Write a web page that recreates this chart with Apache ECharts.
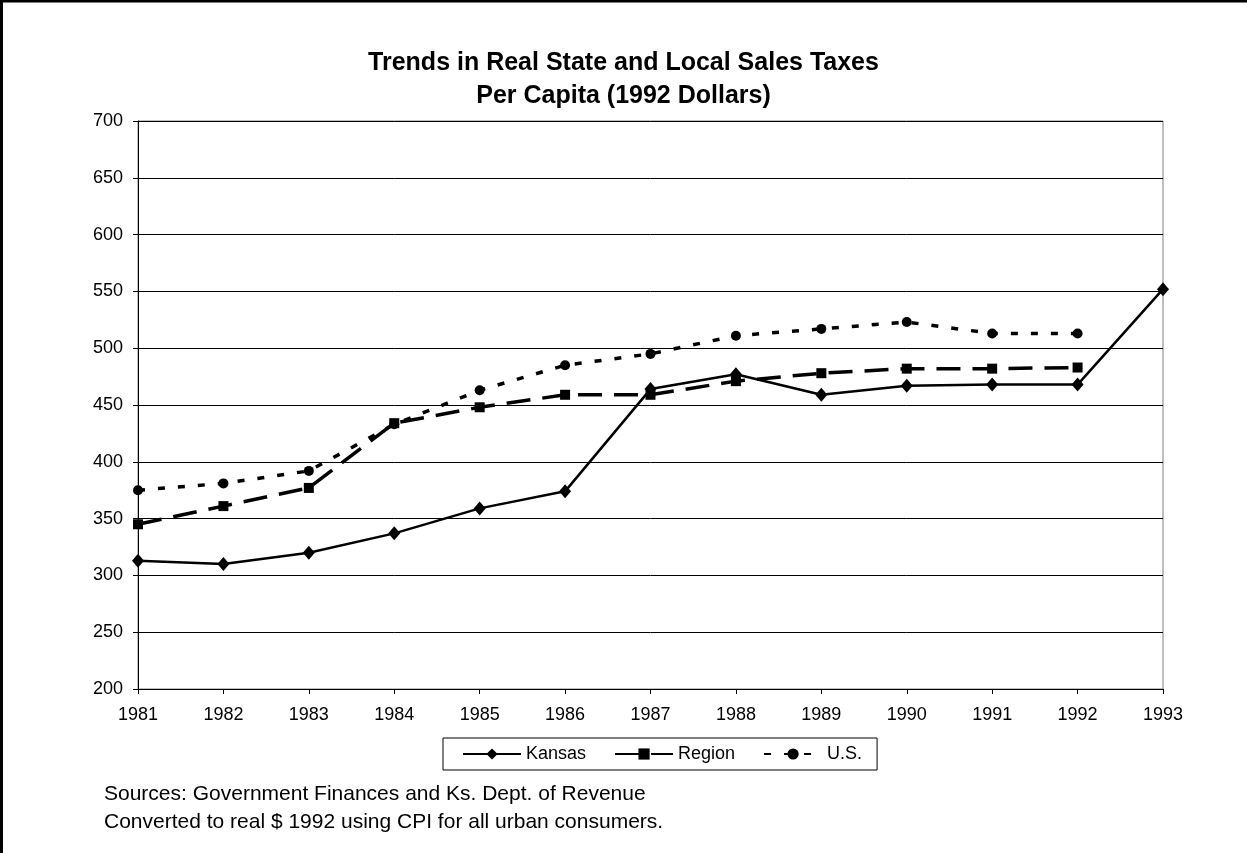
<!DOCTYPE html>
<html>
<head>
<meta charset="utf-8">
<script src="https://cdn.jsdelivr.net/npm/echarts@6/dist/echarts.min.js"></script>
<style>
html,body{margin:0;padding:0;background:#fff;}
#chart{width:1247px;height:853px;}
</style>
</head>
<body>
<div id="chart"></div>
<script>
const years = ['1981','1982','1983','1984','1985','1986','1987','1988','1989','1990','1991','1992','1993'];
const kansas = [313, 310, 320, 337, 359, 374, 464, 477, 459, 467, 468, 468, 552];
const region = [345, 361, 377, 434, 448, 459, 459, 471, 478, 482, 482, 483, null];
const us = [375, 381, 392, 433, 463, 485, 495, 511, 517, 523, 513, 513, null];
const titleLines = 'Trends in Real State and Local Sales Taxes\nPer Capita (1992 Dollars)';
const notes = ['Sources: Government Finances and Ks. Dept. of Revenue', 'Converted to real $ 1992 using CPI for all urban consumers.'];

const chart = echarts.init(document.getElementById('chart'));
const font = 'Arial, "Liberation Sans", sans-serif';
chart.setOption({
  animation: false,
  backgroundColor: '#fff',
  title: {
    text: titleLines,
    left: 'center',
    top: 42,
    textStyle: {fontFamily: font, fontSize: 25, fontWeight: 'bold', color: '#000', lineHeight: 33}
  },
  grid: {left: 138, right: 84, top: 121, bottom: 164, show: true, borderColor: '#808080', borderWidth: 1},
  legend: {
    bottom: 83,
    left: 443,
    itemWidth: 58,
    itemHeight: 14,
    itemGap: 28,
    padding: [7, 15, 7, 19],
    borderColor: '#000',
    borderWidth: 1,
    textStyle: {fontFamily: font, fontSize: 18, color: '#000'},
    data: ['Kansas', 'Region', 'U.S.']
  },
  xAxis: {
    type: 'category',
    data: years,
    boundaryGap: false,
    axisLine: {lineStyle: {color: '#000', width: 1}},
    axisTick: {show: true, alignWithLabel: true, length: 5, lineStyle: {color: '#000'}},
    axisLabel: {fontFamily: font, fontSize: 18, color: '#000', margin: 17},
    splitLine: {show: false}
  },
  yAxis: {
    type: 'value',
    min: 200, max: 700, interval: 50,
    axisLine: {show: true, lineStyle: {color: '#000', width: 1}},
    axisTick: {show: true, inside: false, length: 5, lineStyle: {color: '#000'}},
    axisLabel: {fontFamily: font, fontSize: 18, color: '#000', margin: 15},
    splitLine: {show: true, lineStyle: {color: '#000', width: 1}}
  },
  series: [
    {name: 'Kansas', type: 'line', data: kansas, symbol: 'diamond', symbolSize: [12, 14],
     lineStyle: {color: '#000', width: 2.5}, itemStyle: {color: '#000'}},
    {name: 'Region', type: 'line', data: region, symbol: 'rect', symbolSize: 10,
     lineStyle: {color: '#000', width: 3.5, type: [24, 12]}, itemStyle: {color: '#000'}},
    {name: 'U.S.', type: 'line', data: us, symbol: 'circle', symbolSize: 10,
     lineStyle: {color: '#000', width: 3.5, type: [7, 13]}, itemStyle: {color: '#000'}}
  ],
  graphic: [
    {type: 'line', shape: {x1: 1.5, y1: 0, x2: 1.5, y2: 853}, style: {stroke: '#000', lineWidth: 3}, silent: true},
    {type: 'line', shape: {x1: 0, y1: 1.25, x2: 1247, y2: 1.25}, style: {stroke: '#000', lineWidth: 2.5}, silent: true},
    {type: 'text', left: 104, top: 784, style: {text: notes[0], fontFamily: font, fontSize: 21, fill: '#000'}},
    {type: 'text', left: 104, top: 812, style: {text: notes[1], fontFamily: font, fontSize: 21, fill: '#000'}}
  ]
});
</script>
</body>
</html>
